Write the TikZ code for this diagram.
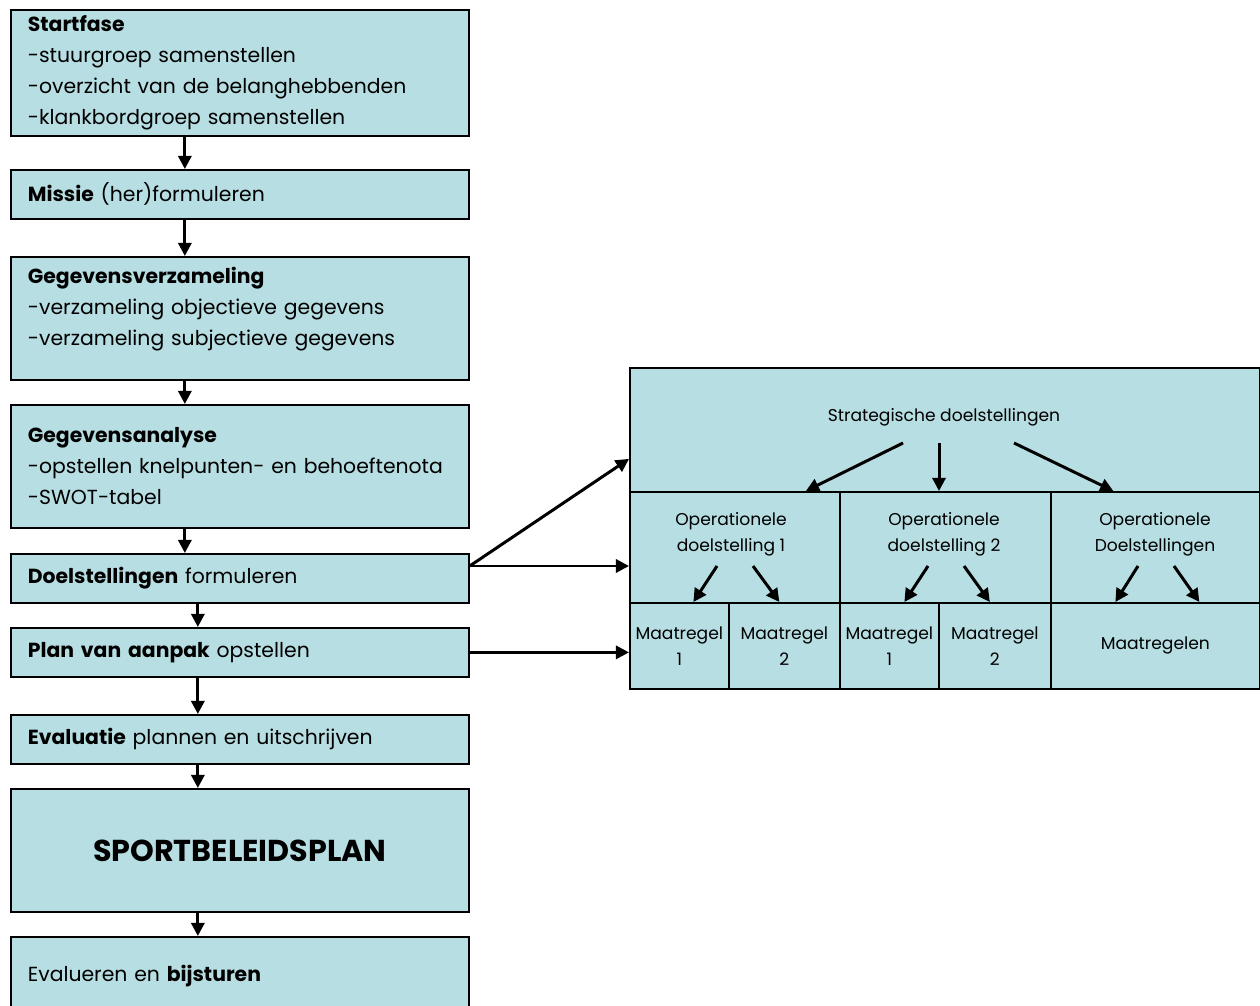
\documentclass[tikz,border=0pt]{standalone}
\usepackage{fontspec}
\setmainfont{Poppins}
\usetikzlibrary{arrows.meta, calc}
\definecolor{Lichtblauw}{HTML}{B7DEE2}
\hyphenpenalty=10000

\begin{document}
\begin{tikzpicture}[x=0.02cm, y=-0.02cm,
    stap/.style={rectangle, draw=black, fill=Lichtblauw, anchor=north west, minimum width=9.16cm, text width=8.48cm, inner xsep=0.34cm, align=left, font=\fontsize{11.6}{17.6}\selectfont, line width=1pt},
    cel/.style={rectangle, draw=black, fill=Lichtblauw, anchor=north west, inner sep=0pt, align=center, font=\fontsize{9.75}{14.7}\selectfont, line width=1pt},
    tekst/.style={align=center, font=\fontsize{9.75}{14.7}\selectfont},
    pijl/.style={-{Triangle[length=7.5pt, width=7.5pt]}, draw=black, line width=1.7pt}
]
\useasboundingbox (0,0) rectangle (1260,1006);

% stappen links
\node[stap, minimum height=2.44cm] (start) at (10,9) {\textbf{Startfase}\\-stuurgroep samenstellen\\-overzicht van de belanghebbenden\\-klankbordgroep samenstellen};
\node[stap, minimum height=0.98cm] (missie) at (10,169) {\textbf{Missie} (her)formuleren};
\node[stap, minimum height=2.46cm] (verzameling) at (10,256) {\textbf{Gegevensverzameling}\\-verzameling objectieve gegevens\\-verzameling subjectieve gegevens\\[-4pt]\mbox{}};
\node[stap, minimum height=2.46cm] (analyse) at (10,404) {\textbf{Gegevensanalyse}\\-opstellen knelpunten- en behoeftenota\\-SWOT-tabel};
\node[stap, minimum height=0.98cm] (doelen) at (10,553) {\textbf{Doelstellingen} formuleren};
\node[stap, minimum height=0.98cm] (plan) at (10,627) {\textbf{Plan van aanpak} opstellen};
\node[stap, minimum height=0.98cm] (evaluatie) at (10,714) {\textbf{Evaluatie} plannen en uitschrijven};
\node[stap, minimum height=2.46cm, align=center, font=\fontsize{17.2}{20}\selectfont\bfseries] (beleidsplan) at (10,788) {SPORTBELEIDSPLAN};
\node[stap, minimum height=1.56cm] (bijsturen) at (10,936) {Evalueren en \textbf{bijsturen}};

\foreach \a/\b in {start/missie, missie/verzameling, verzameling/analyse, analyse/doelen}
    \draw[pijl] ([xshift=-1.1cm]\a.south) -- ([xshift=-1.1cm]\b.north);
\foreach \a/\b in {doelen/plan, plan/evaluatie, evaluatie/beleidsplan, beleidsplan/bijsturen}
    \draw[pijl] ([xshift=-0.84cm]\a.south) -- ([xshift=-0.84cm]\b.north);

% schema rechts
\node[cel, minimum width=12.6cm, minimum height=2.48cm] (strategisch) at (629,367) {};
\node[cel, minimum width=4.2cm, minimum height=2.22cm] (op1) at (629,491) {};
\node[cel, minimum width=4.22cm, minimum height=2.22cm] (op2) at (839,491) {};
\node[cel, minimum width=4.18cm, minimum height=2.22cm] (op3) at (1050,491) {};
\node[cel, minimum width=1.98cm, minimum height=1.72cm] (m11) at (629,602) {Maatregel\\1};
\node[cel, minimum width=2.22cm, minimum height=1.72cm] (m12) at (728,602) {Maatregel\\2};
\node[cel, minimum width=1.98cm, minimum height=1.72cm] (m21) at (839,602) {Maatregel\\1};
\node[cel, minimum width=2.24cm, minimum height=1.72cm] (m22) at (938,602) {Maatregel\\2};
\node[cel, minimum width=4.18cm, minimum height=1.72cm] (m3) at (1050,602) {Maatregelen};

\node[tekst] (strattekst) at (944,417) {Strategische doelstellingen};
\node[tekst] (op1tekst) at (731,534) {Operationele\\doelstelling 1};
\node[tekst] (op2tekst) at (944,534) {Operationele\\doelstelling 2};
\node[tekst] (op3tekst) at (1155,534) {Operationele\\Doelstellingen};

\draw[pijl] ($(strattekst)+(-41,26)$) -- ($(op1.north)+(71,0)$);
\draw[pijl] ($(strattekst)+(-5,26)$) coordinate (midden) -- (midden |- op2.north);
\draw[pijl] ($(strattekst)+(70,26)$) -- ($(op3.north)+(-42,0)$);

\draw[pijl] ($(op1tekst)+(-14,32)$) -- ($(m11.north)+(14,0)$);
\draw[pijl] ($(op1tekst)+(22,32)$) -- ($(m12.north)+(-5,0)$);
\draw[pijl] ($(op2tekst)+(-16,32)$) -- ($(m21.north)+(15,0)$);
\draw[pijl] ($(op2tekst)+(20,32)$) -- ($(m22.north)+(-5,0)$);
\draw[pijl] ($(op3tekst)+(-17,32)$) -- ($(m3.north)+(-40,0)$);
\draw[pijl] ($(op3tekst)+(19,32)$) -- ($(m3.north)+(44,0)$);

% verbindingen
\coordinate (bron) at ($(doelen.north east)+(0,13)$);
\draw[pijl] (bron) -- ($(strategisch.west)+(0,29)$);
\draw[pijl] (bron) -- (bron -| op1.west);
\draw[pijl] (plan.east) -- (plan.east -| m11.west);
\end{tikzpicture}
\end{document}
